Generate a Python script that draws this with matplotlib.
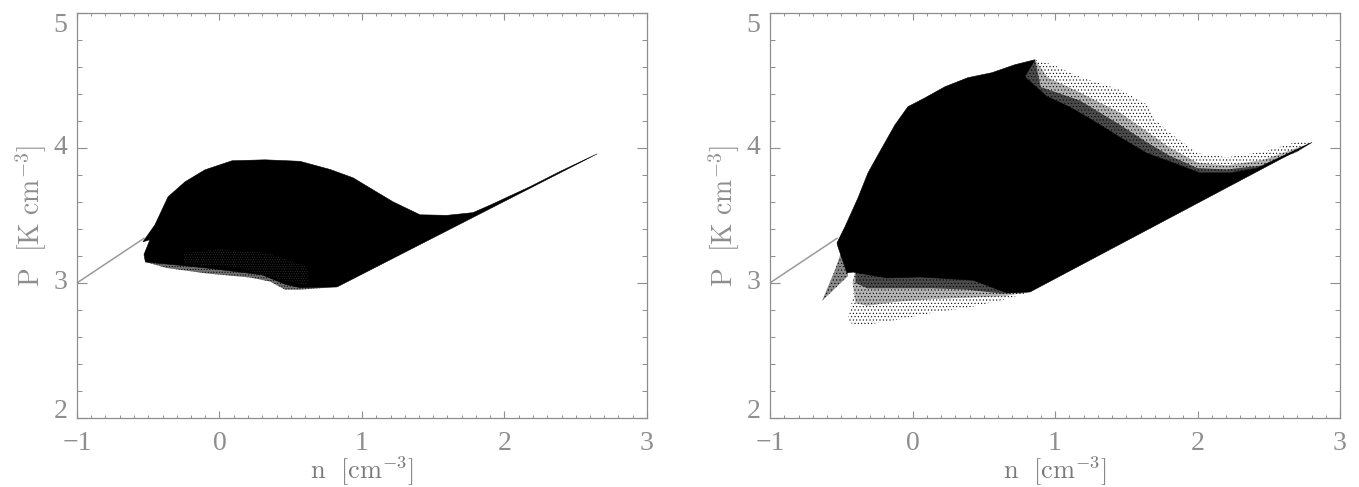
import matplotlib
matplotlib.use("Agg")
import matplotlib.pyplot as plt
from matplotlib.ticker import FixedLocator

plt.rcParams['mathtext.fontset'] = 'cm'
plt.rcParams['hatch.linewidth'] = 0.4

GRAY = '#8e8e8e'

x_ticks = [-1, 0, 1, 2, 3]
y_ticks = [2, 3, 4, 5]
x_labels = ['\u22121', '0', '1', '2', '3']
y_labels = ['2', '3', '4', '5']
x_title = r'$\mathrm{n\ \ [cm^{-3}]}$'
y_title = r'$\mathrm{P\ \ [K\ cm^{-3}]}$'

line_n = [-1.0, -0.53]
line_p = [3.0, 3.33]

left_core_n = [-0.537, -0.453, -0.361, -0.242, -0.102, 0.088, 0.319, 0.565, 0.775, 0.937, 1.077, 1.218, 1.407, 1.596, 1.779, 1.898, 2.179, 2.39, 2.65,
               0.825, 0.565, 0.46, 0.30, -0.09, -0.37, -0.52, -0.53, -0.488]
left_core_p = [3.304, 3.43, 3.637, 3.748, 3.837, 3.904, 3.911, 3.90, 3.84, 3.778, 3.689, 3.60, 3.504, 3.50, 3.52, 3.575, 3.712, 3.825, 3.955,
               2.97, 2.965, 2.99, 3.06, 3.11, 3.14, 3.155, 3.21, 3.32]
left_halo_n = [-0.52, -0.37, -0.09, 0.214, 0.354, 0.46, 0.565, 0.825, 0.565, 0.30, -0.09, -0.37]
left_halo_p = [3.155, 3.11, 3.07, 3.04, 3.01, 2.95, 2.95, 2.97, 3.05, 3.10, 3.14, 3.16]
left_fleck_n = [-0.25, 0.10, 0.45, 0.62, 0.62, 0.35, 0.0, -0.25]
left_fleck_p = [3.14, 3.12, 3.02, 2.98, 3.12, 3.22, 3.25, 3.22]

right_core_n = [-0.53, -0.474, -0.382, -0.312, -0.214, -0.123, -0.032, 0.088, 0.228, 0.389, 0.558, 0.719, 0.86, 0.789, 0.944, 1.105, 1.295, 1.456, 1.646, 1.828,
                2.018, 2.228, 2.418, 2.804, 0.825, 0.663, 0.425, 0.053, -0.179, -0.418, -0.46, -0.523]
right_core_p = [3.296, 3.415, 3.63, 3.815, 4.0, 4.17, 4.304, 4.37, 4.452, 4.519, 4.556, 4.615, 4.652, 4.526, 4.38, 4.30, 4.185, 4.08, 3.96, 3.89,
                3.815, 3.815, 3.85, 4.04, 2.933, 2.926, 3.02, 3.044, 3.037, 3.08, 3.074, 3.267]

right_upper_outer_n = [0.86, 0.986, 1.175, 1.456, 1.646, 1.70, 1.807, 2.0, 2.207, 2.46, 2.70, 2.804, 2.418, 2.228, 2.018, 1.646, 1.295, 0.944, 0.789]
right_upper_outer_p = [4.652, 4.615, 4.525, 4.43, 4.32, 4.21, 4.11, 3.96, 3.93, 3.97, 4.045, 4.04, 3.85, 3.815, 3.815, 3.96, 4.185, 4.38, 4.526]
right_upper_mid_n = [0.86, 0.95, 1.175, 1.456, 1.646, 1.807, 2.0, 2.207, 2.46, 2.70, 2.804, 2.418, 2.228, 2.018, 1.646, 1.295, 0.944, 0.789]
right_upper_mid_p = [4.652, 4.52, 4.41, 4.26, 4.12, 4.00, 3.89, 3.87, 3.91, 4.00, 4.04, 3.85, 3.815, 3.815, 3.96, 4.185, 4.38, 4.526]
right_upper_inner_n = [0.86, 0.90, 1.175, 1.456, 1.646, 1.807, 2.0, 2.207, 2.46, 2.70, 2.804, 2.418, 2.228, 2.018, 1.646, 1.295, 0.944, 0.789]
right_upper_inner_p = [4.652, 4.45, 4.35, 4.17, 4.04, 3.94, 3.85, 3.84, 3.87, 3.97, 4.04, 3.85, 3.815, 3.815, 3.96, 4.185, 4.38, 4.526]

right_lower_outer_n = [0.825, 0.635, 0.382, 0.144, -0.109, -0.319, -0.418, -0.453, -0.404, -0.40, 0.053, 0.425, 0.663]
right_lower_outer_p = [2.933, 2.874, 2.815, 2.78, 2.726, 2.69, 2.69, 2.726, 2.97, 3.10, 3.06, 3.03, 2.94]
right_lower_mid_n = [0.825, 0.635, 0.382, 0.144, -0.109, -0.319, -0.40, -0.42, -0.40, 0.053, 0.425, 0.663]
right_lower_mid_p = [2.933, 2.90, 2.89, 2.88, 2.86, 2.83, 2.85, 3.00, 3.10, 3.06, 3.03, 2.94]
right_lower_inner_n = [0.825, 0.635, 0.382, 0.144, -0.109, -0.319, -0.40, -0.40, 0.053, 0.425, 0.663]
right_lower_inner_p = [2.933, 2.92, 2.95, 2.96, 2.96, 2.96, 3.0, 3.10, 3.06, 3.03, 2.94]
right_wedge_n = [-0.635, -0.544, -0.495, -0.46, -0.453]
right_wedge_p = [2.867, 3.096, 3.244, 3.2, 3.05]

fig = plt.figure(figsize=(13.59, 4.87), dpi=100)
W, H = 1359.0, 487.0


def stipple(ax, n, p, face, hatch, z):
    ax.fill(n, p, facecolor=face, edgecolor='black', hatch=hatch, lw=0, zorder=z)


def panel(x0, core):
    ax = fig.add_axes([x0 / W, 1 - 418 / H, 570 / W, 405.3 / H])
    ax.set_xlim(-1, 3)
    ax.set_ylim(2, 5)
    ax.plot(line_n, line_p, color='#9a9a9a', lw=1.1, zorder=2)
    ax.fill(core[0], core[1], color='black', lw=0.4, zorder=3)
    ax.xaxis.set_major_locator(FixedLocator(x_ticks))
    ax.yaxis.set_major_locator(FixedLocator(y_ticks))
    ax.xaxis.set_minor_locator(FixedLocator([-1 + 0.1 * i for i in range(41)]))
    ax.yaxis.set_minor_locator(FixedLocator([2 + 0.2 * i for i in range(16)]))
    ax.set_xticklabels(x_labels)
    ax.set_yticklabels(y_labels)
    for t, v in zip(ax.get_yticklabels(), y_ticks):
        t.set_va('top' if v == 5 else 'baseline' if v == 2 else 'center')
    for t in ax.get_xticklabels() + ax.get_yticklabels():
        t.set_fontfamily('Liberation Serif')
        t.set_fontsize(20)
    ax.tick_params(which='major', axis='x', direction='in', top=True, length=5, width=0.8, color=GRAY, labelcolor=GRAY, pad=9)
    ax.tick_params(which='minor', axis='x', direction='in', top=True, length=2.5, width=0.7, color=GRAY)
    ax.tick_params(which='major', axis='y', direction='in', right=True, length=7, width=0.8, color=GRAY, labelcolor=GRAY, pad=7)
    ax.tick_params(which='minor', axis='y', direction='in', right=True, length=3.5, width=0.7, color=GRAY)
    for s in ax.spines.values():
        s.set_color(GRAY)
        s.set_linewidth(0.9)
    ax.set_xlabel(x_title, fontsize=19, color='#7a7a7a', labelpad=-0.5)
    ax.set_ylabel(y_title, fontsize=20, color=GRAY, labelpad=3)
    return ax


ax_l = panel(77, (left_core_n, left_core_p))
stipple(ax_l, left_halo_n, left_halo_p, '#707070', '......', 2)
ax_l.fill(left_fleck_n, left_fleck_p, facecolor='none', edgecolor='#333333', hatch='.......', lw=0, zorder=4)

ax_r = panel(770, (right_core_n, right_core_p))
stipple(ax_r, right_upper_outer_n, right_upper_outer_p, 'white', '.....', 1.3)
stipple(ax_r, right_upper_mid_n, right_upper_mid_p, '#b4b4b4', '.....', 1.6)
stipple(ax_r, right_upper_inner_n, right_upper_inner_p, '#4a4a4a', '.....', 2)
stipple(ax_r, right_lower_outer_n, right_lower_outer_p, 'white', '.....', 1.3)
stipple(ax_r, right_lower_mid_n, right_lower_mid_p, '#b4b4b4', '.....', 1.6)
stipple(ax_r, right_lower_inner_n, right_lower_inner_p, '#4a4a4a', '.....', 2)
stipple(ax_r, right_wedge_n, right_wedge_p, '#8a8a8a', '.....', 2)

fig.savefig('out.png', dpi=100)
